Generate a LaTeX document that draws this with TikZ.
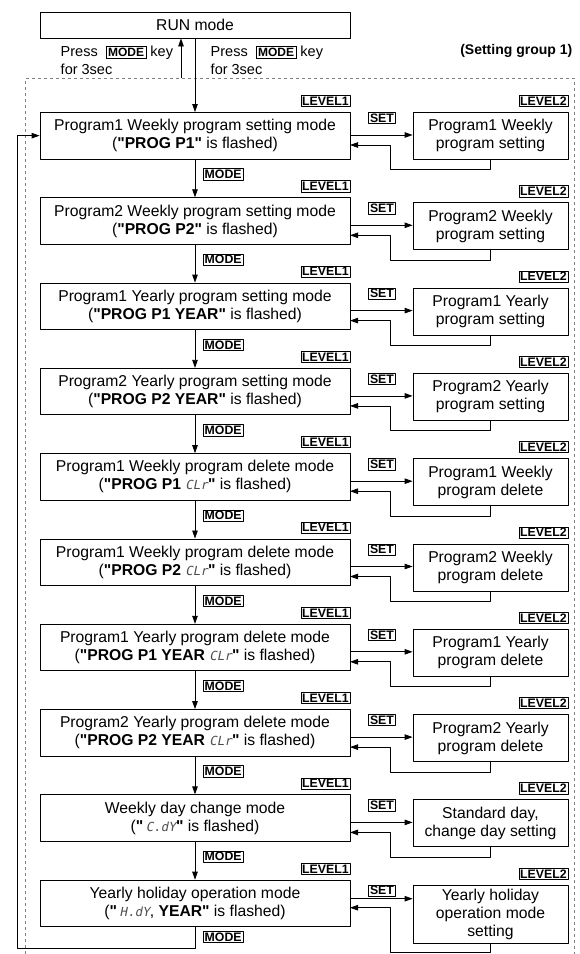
\documentclass[tikz,border=0pt]{standalone}
\usepackage{fontspec}
\setmainfont{Liberation Sans}
\newfontfamily\segfont[FakeSlant=0.2]{DejaVu Sans Mono}
\usetikzlibrary{arrows.meta,positioning}
\newcommand{\seg}[1]{{\segfont\fontsize{12.5}{12}\selectfont\color{black!70}#1}}
\newcommand{\q}{\textquotedbl}
\newcommand{\keybox}[1]{{\fboxsep=1.5pt\fboxrule=0.8pt\fbox{\bfseries\fontsize{12}{12}\selectfont #1}}}
\begin{document}
\begin{tikzpicture}[x=1pt, y=-1pt, line join=round, line width=0.8pt,
	>={Triangle[length=8pt,width=5.5pt]},
	every node/.style={font=\fontsize{15.7}{18}\selectfont},
	modebox/.style={draw, minimum width=310pt, minimum height=46.5pt, align=center, inner sep=0pt},
	setbox/.style={draw, minimum width=155pt, minimum height=47pt, align=center, inner sep=0pt},
	tag/.style={draw, inner sep=1.3pt, font=\bfseries\fontsize{12.3}{12}\selectfont}]
	\useasboundingbox (0,0) rectangle (579,954);
	\node[modebox, minimum height=26pt] (run) at (195,25) {RUN mode};
	\node[anchor=west, align=left, font=\fontsize{14.5}{17.5}\selectfont] (pressup) at (57,60)
	{Press\ \ \keybox{MODE} key\\for 3sec};
	\node[anchor=west, align=left, font=\fontsize{14.5}{17.5}\selectfont] (pressdown) at (207,60)
	{Press\ \ \keybox{MODE} key\\for 3sec};
	\node[anchor=east, font=\bfseries\fontsize{14}{16}\selectfont] (group) at (576,51) {(Setting group 1)};
	\draw[dashed, gray]
	(25.7,954) |- (574.5,78.3) -- (574.5,954)
	;
	\coordinate (up) at (181,78.3);
	\draw[->] (up) -- (up |- run.south);
	\foreach \i/\ta/\tb/\tc in {
		1/Program1 Weekly program setting mode/{(\textbf{\q PROG P1\q} is flashed)}/Program1 Weekly\\program setting,
		2/Program2 Weekly program setting mode/{(\textbf{\q PROG P2\q} is flashed)}/Program2 Weekly\\program setting,
		3/Program1 Yearly program setting mode/{(\textbf{\q PROG P1 YEAR\q} is flashed)}/Program1 Yearly\\program setting,
		4/Program2 Yearly program setting mode/{(\textbf{\q PROG P2 YEAR\q} is flashed)}/Program2 Yearly\\program setting,
		5/Program1 Weekly program delete mode/{(\textbf{\q PROG P1} \seg{CLr}\textbf{\q} is flashed)}/Program1 Weekly\\program delete,
		6/Program1 Weekly program delete mode/{(\textbf{\q PROG P2} \seg{CLr}\textbf{\q} is flashed)}/Program2 Weekly\\program delete,
		7/Program1 Yearly program delete mode/{(\textbf{\q PROG P1 YEAR} \seg{CLr}\textbf{\q} is flashed)}/Program1 Yearly\\program delete,
		8/Program2 Yearly program delete mode/{(\textbf{\q PROG P2 YEAR} \seg{CLr}\textbf{\q} is flashed)}/Program2 Yearly\\program delete,
		{9/Weekly day change mode/(\textbf{\q}\,\seg{C.dY}\textbf{\q} is flashed)/Standard day,\\change day setting},
		{10/Yearly holiday operation mode/(\textbf{\q}\,\seg{H.dY}, \textbf{YEAR\q} is flashed)/Yearly holiday\\operation mode\\setting}}
	{
		\pgfmathsetmacro\T{112+85.3*(\i-1)}
		\pgfmathsetmacro\L{\T+5*(\i>1)}
		\pgfmathsetmacro\h{\i==10 ? 58 : 47}
		\pgfmathsetmacro\ra{\L+(\i==10 ? 14 : 23)}
		\pgfmathsetmacro\rb{\L+(\i==10 ? 23 : 33)}
		\pgfmathsetmacro\dd{\i==10 ? 9 : 10}
		\node[modebox, anchor=north] (m\i) at (195,\T) {\ta\\\tb};
		\node[setbox, anchor=north, minimum height=\h pt] (s\i) at (490.5,\L) {\tc};
		\node[tag, above left=5pt and 0pt of m\i.north east] (lvone\i) {LEVEL1};
		\node[tag, above left=5pt and 0pt of s\i.north east] (lvtwo\i) {LEVEL2};
		\node[tag, anchor=north] (set\i) at (382,\L) {SET};
		\coordinate (in\i) at (350,\ra);
		\coordinate (back\i) at (350,\rb);
		\draw[->] (in\i) -- (in\i -| s\i.west);
		\draw[->] (s\i.south) -- ++(0,\dd) -| ([xshift=40pt]back\i) -- (back\i);
	}
	\draw[->] (run.south) -- (m1.north);
	\foreach \i [count=\j from 2] in {1,...,9}{
		\draw[->] (m\i.south) -- (m\j.north);
		\node[tag, below right=9pt and 8pt of m\i.south] (md\i) {MODE};
	}
	\node[tag, below right=4pt and 8pt of m10.south] (md10) {MODE};
	\coordinate (loop) at (17,948);
	\draw[->] (m10.south) |- (loop) |- (m1.west);
\end{tikzpicture}
\end{document}
